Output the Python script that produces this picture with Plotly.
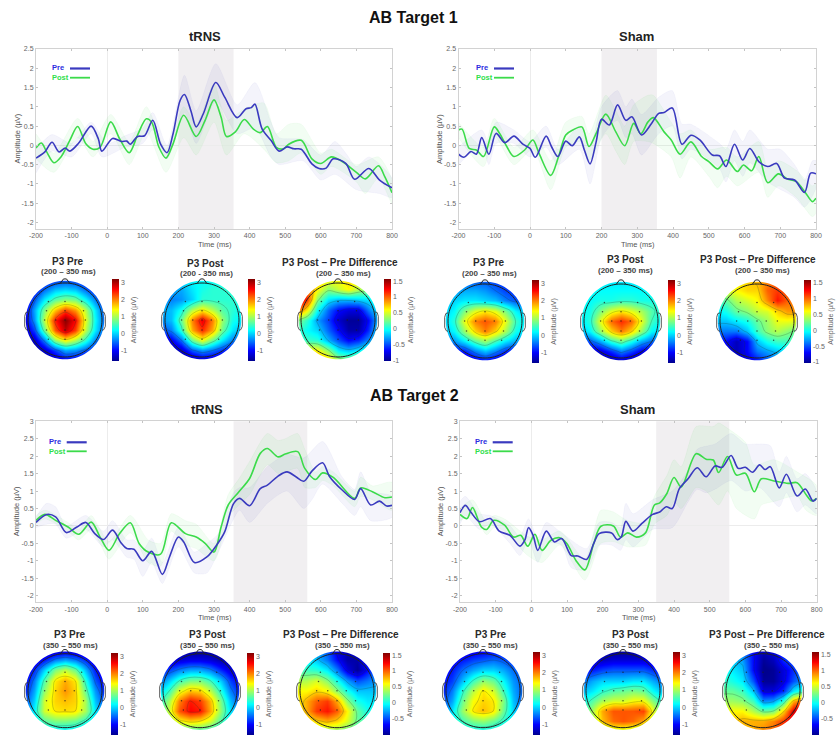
import math
import plotly.graph_objects as go

W, H = 836, 735
FONT = "Liberation Sans"
BLUE, GREEN = "#3A3ABF", "#3BDB4A"
BLUE_TXT, GREEN_TXT = "#2B2BE0", "#2FE04A"

X_TICKS = [-200, -100, 0, 100, 200, 300, 400, 500, 600, 700, 800]
Y_TICKS_T1 = [2.5, 2, 1.5, 1, 0.5, 0, -0.5, -1, -1.5, -2]
Y_LABELS_T1 = ["2.5", "2", "1.5", "1", "0.5", "0", "-0.5", "-1", "-1.5", "-2"]
Y_TICKS_T2 = [3, 2.5, 2, 1.5, 1, 0.5, 0, -0.5, -1, -1.5, -2]
Y_LABELS_T2 = ["3", "2.5", "2", "1.5", "1", "0.5", "0", "-0.5", "-1", "-1.5", "-2"]
CB_P3 = [3, 2, 1, 0, -1]
CB_DIFF = [1.5, 1, 0.5, 0, -0.5, -1]
CB_DIFF_LABELS = ["1.5", "1", "0.5", "0", "-0.5", "-1"]

# Panel A: AB Target 1, tRNS
A_PRE = [[-200,-.33],[-175,-.17],[-155,.08],[-135,-.17],[-118,-.07],[-105,-.15],[-80,.06],[-45,.5],[-25,.17],[-15,-.15],[15,.18],[40,.1],[55,.11],[65,.03],[85,.23],[105,.25],[128,.65],[150,.03],[168,-.19],[185,.3],[205,1.17],[217,1.32],[235,.9],[250,.48],[270,.82],[305,1.63],[330,1.25],[365,.72],[390,.95],[405,.98],[415,1.07],[435,.43],[460,.13],[483,-.15],[505,-.04],[525,-.09],[545,-.1],[575,-.48],[595,-.6],[615,-.59],[635,-.35],[670,-.47],[695,-.88],[735,-.6],[765,-.9],[800,-1.1]]
A_POST = [[-200,-.07],[-185,.06],[-170,-.17],[-150,-.45],[-130,-.3],[-105,.13],[-83,.49],[-60,.04],[-40,-.1],[-20,-.05],[10,.61],[35,.17],[62,-.19],[85,.26],[110,.69],[125,.6],[145,-.04],[165,-.33],[185,.04],[215,.78],[250,.23],[275,.65],[300,1.18],[320,.73],[335,.23],[360,.35],[385,.67],[410,.43],[430,.33],[450,.49],[475,-.05],[495,-.09],[510,.03],[545,.13],[575,-.35],[600,-.47],[630,-.3],[660,-.42],[700,-.7],[725,-.87],[762,-.53],[780,-.82],[800,-1.23]]
A_PRE_UP = [[-200,-.1],[-155,.28],[-100,.05],[-45,.6],[0,.05],[50,.25],[100,.45],[128,.85],[168,0],[217,1.82],[250,.9],[305,2.12],[365,1.05],[415,1.63],[460,.6],[483,.2],[550,.15],[600,-.25],[640,.1],[670,-.2],[700,-.55],[735,-.3],[800,-.85]]
A_PRE_LO = [[-200,-.72],[-155,-.15],[-100,-.3],[-45,.3],[-15,-.3],[50,-.05],[100,.05],[128,.4],[168,-.35],[217,.85],[250,.05],[305,1.15],[365,.3],[415,.45],[460,-.3],[483,-.5],[550,-.4],[600,-.9],[640,-.75],[700,-1.15],[765,-1.25],[800,-1.35]]
A_POST_UP = [[-200,.3],[-150,-.2],[-83,.7],[-40,.1],[10,.8],[62,.1],[110,1.0],[165,-.1],[215,1.0],[250,.55],[300,1.6],[335,.65],[385,.95],[440,1.1],[475,.3],[510,.55],[545,.55],[600,-.2],[630,-.1],[700,-.5],[762,-.3],[800,-.9]]
A_POST_LO = [[-200,-.35],[-150,-.7],[-83,.2],[-40,-.3],[10,.3],[62,-.5],[110,.35],[165,-.7],[215,.2],[250,-.25],[300,.6],[335,-.25],[385,.3],[440,-.1],[475,-.45],[510,-.4],[545,-.2],[600,-.75],[630,-.55],[700,-.95],[725,-1.25],[762,-.85],[800,-1.5]]

# Panel B: AB Target 1, Sham
B_PRE = [[-200,-.23],[-185,-.31],[-165,-.16],[-150,-.23],[-135,.2],[-115,-.23],[-95,.31],[-70,.07],[-45,.24],[-20,.03],[0,-.08],[15,-.31],[45,.24],[60,-.03],[78,-.29],[100,.11],[118,-.01],[138,.22],[152,-.12],[168,-.48],[185,.09],[200,.68],[222,.53],[245,1.05],[268,.65],[285,.74],[312,.27],[340,.57],[360,.83],[375,.85],[398,.97],[425,.03],[450,.26],[475,.14],[510,-.25],[530,-.27],[548,-.55],[572,.03],[595,-.38],[615,-.08],[640,-.42],[665,-.55],[690,-.47],[712,-.85],[740,-.9],[768,-1.22],[785,-.72],[800,-.74]]
B_POST = [[-200,.4],[-190,.42],[-170,-.08],[-150,-.12],[-130,-.29],[-100,.48],[-85,.31],[-65,-.03],[-45,-.29],[-15,-.12],[8,.14],[25,-.2],[58,-.78],[80,-.29],[100,.27],[120,.4],[145,.48],[165,-.03],[185,.31],[212,.81],[240,.35],[265,-.01],[290,.57],[310,.3],[330,.61],[345,.72],[375,.35],[395,.14],[420,-.23],[450,.09],[480,-.29],[500,-.42],[525,-.61],[550,-.38],[580,-.68],[597,-.51],[620,-.66],[640,-.29],[665,-.97],[695,-.74],[720,-.87],[745,-.94],[770,-1.22],[790,-1.46],[800,-1.37]]
B_PRE_UP = [[-200,-.05],[-135,.4],[-115,.05],[-95,.6],[-45,.4],[0,.1],[45,.5],[78,-.1],[138,.5],[168,-.05],[200,1.0],[245,1.42],[268,1.0],[285,1.2],[312,.8],[360,1.25],[398,1.42],[425,.55],[450,.55],[530,.05],[548,-.1],[572,.4],[595,.1],[615,.4],[665,-.1],[700,-.1],[740,-.5],[768,-.9],[790,-.4],[800,-.4]]
B_PRE_LO = [[-200,-.5],[-135,0],[-115,-.5],[-95,.05],[-45,.05],[0,-.3],[45,-.05],[78,-.5],[138,-.1],[168,-1.0],[200,.2],[245,.65],[268,.2],[285,.3],[312,-.25],[360,.3],[398,.5],[425,-.35],[450,-.1],[530,-.6],[548,-.95],[572,-.4],[595,-.8],[615,-.45],[665,-.95],[712,-1.2],[740,-1.35],[768,-1.6],[800,-1.1]]
B_POST_UP = [[-200,.6],[-130,-.05],[-100,.7],[-45,-.05],[8,.4],[58,-.4],[100,.6],[145,.75],[165,.3],[212,1.3],[240,.9],[265,.5],[290,1.05],[330,1.3],[345,1.3],[395,.6],[420,.3],[450,.4],[500,-.1],[550,-.05],[580,-.3],[640,.1],[665,-.6],[695,-.4],[745,-.65],[790,-1.05],[800,-1.0]]
B_POST_LO = [[-200,.2],[-130,-.55],[-100,.25],[-45,-.5],[8,-.1],[58,-1.15],[100,-.05],[145,.1],[165,-.4],[212,.3],[240,-.15],[265,-.5],[290,.1],[330,.1],[345,.05],[395,-.3],[420,-.85],[450,-.3],[500,-.8],[525,-1.1],[550,-.8],[580,-1.05],[640,-.7],[665,-1.35],[695,-1.05],[745,-1.35],[790,-1.85],[800,-1.75]]

# Panel C: AB Target 2, tRNS
C_PRE = [[-200,.1],[-170,.33],[-145,.26],[-115,-.19],[-85,-.03],[-60,.1],[-35,-.22],[-10,-.39],[15,-.12],[40,-.5],[55,-.65],[75,-.67],[100,-1],[125,-.73],[155,-1.39],[175,-.89],[200,-.32],[215,-.46],[245,-1.05],[280,-.89],[310,-.51],[330,-.17],[355,.64],[372,.79],[400,.58],[430,1.07],[450,1.17],[480,1.43],[505,1.55],[530,1.41],[552,1.28],[575,1.57],[605,1.81],[625,1.41],[660,1.03],[695,.76],[712,1.07],[740,.6],[765,.71],[785,.57],[800,.59]]
C_POST = [[-200,.16],[-175,.33],[-145,.16],[-110,-.03],[-80,-.24],[-45,.11],[-20,-.32],[5,-.7],[35,-.22],[65,.09],[90,-.51],[115,-.75],[150,-.81],[180,.09],[220,-.22],[250,-.32],[275,-.5],[300,-.75],[320,-.03],[340,.6],[370,.98],[400,1.36],[430,2.08],[450,2.22],[480,1.98],[500,2.06],[535,2.13],[555,1.65],[585,1.33],[605,1.52],[635,1.39],[695,.79],[712,1.09],[745,.98],[780,.81],[800,.83]]
C_PRE_UP = [[-200,.25],[-170,.65],[-145,.55],[-115,0],[-60,.3],[-10,-.15],[15,.15],[55,-.4],[75,-.4],[100,-.7],[125,-.35],[155,-1.05],[200,-.05],[245,-.75],[280,-.5],[310,-.25],[355,.95],[372,1.1],[400,1.1],[450,1.7],[505,2.05],[552,1.95],[605,2.42],[660,1.4],[695,1.05],[712,1.55],[740,1.0],[800,.85]]
C_PRE_LO = [[-200,-.05],[-170,.05],[-145,.05],[-115,-.35],[-60,-.1],[-10,-.6],[15,-.4],[55,-.9],[75,-.95],[100,-1.45],[125,-1.05],[155,-1.65],[200,-.6],[245,-1.35],[280,-1.35],[310,-.8],[355,.2],[372,.45],[400,.1],[450,.65],[505,1.0],[552,.5],[575,.75],[605,1.2],[660,.65],[695,.3],[712,.55],[740,.15],[800,.25]]
C_POST_UP = [[-200,.3],[-175,.45],[-110,.1],[-80,-.1],[-45,.3],[-20,-.1],[5,-.45],[65,.3],[115,-.4],[150,-.5],[180,.35],[220,.15],[250,.05],[300,-.5],[340,.9],[370,1.35],[400,1.85],[450,2.65],[480,2.45],[500,2.5],[535,2.65],[555,2.2],[585,1.55],[605,1.7],[635,1.55],[695,1.0],[712,1.4],[745,1.15],[800,1.25]]
C_POST_LO = [[-200,.05],[-175,.2],[-110,-.15],[-80,-.4],[-45,-.1],[-20,-.5],[5,-.95],[65,-.2],[115,-1.05],[150,-1.15],[180,-.15],[220,-.55],[250,-.65],[300,-1.0],[340,.25],[370,.6],[400,.9],[450,1.75],[480,1.5],[500,1.55],[535,1.65],[555,1.1],[585,1.1],[605,1.3],[635,1.15],[695,.55],[712,.85],[745,.75],[800,.45]]

# Panel D: AB Target 2, Sham
D_PRE = [[-200,.38],[-185,.59],[-170,.4],[-145,.12],[-115,.21],[-90,-.15],[-60,-.27],[-32,-.58],[-18,-.4],[-8,-.05],[5,-.27],[18,-.7],[42,-.15],[65,-.46],[85,-.36],[112,-.85],[130,-.86],[155,-.96],[175,-.5],[190,-.22],[225,-.2],[240,-.39],[252,-.32],[265,.13],[285,-.15],[310,.07],[340,.33],[360,.4],[378,.55],[395,.5],[415,1.07],[440,1.36],[465,1.67],[490,1.41],[515,1.72],[535,1.68],[560,2.02],[580,1.65],[600,1.68],[620,1.54],[640,1.75],[655,1.62],[670,1.7],[695,1.09],[715,1.48],[745,.86],[768,1.06],[790,.71],[800,.79]]
D_POST = [[-200,.33],[-180,.21],[-165,.53],[-140,-.03],[-125,-.1],[-105,.16],[-75,.02],[-50,-.32],[-30,-.27],[-10,-.58],[10,-.24],[30,-.7],[55,-.41],[80,-.34],[100,-.51],[125,-.99],[150,-1.26],[175,-.5],[195,-.01],[230,0],[250,-.32],[270,-.2],[295,-.32],[320,-.2],[345,.6],[360,.66],[380,.93],[400,1.39],[420,1.12],[462,2.07],[490,1.91],[510,1.89],[525,1.53],[550,1.99],[575,1.46],[600,1.51],[625,.98],[645,1.35],[680,1.29],[720,1.22],[745,1.24],[770,.9],[785,.72],[800,.79]]
D_PRE_UP = [[-200,.7],[-185,.85],[-145,.35],[-115,.3],[-60,0],[-32,-.3],[-8,.2],[18,-.35],[42,.1],[85,-.2],[155,-.65],[190,.1],[225,.1],[250,-.05],[265,.65],[285,.35],[340,.75],[395,1.0],[440,1.6],[465,2.2],[515,2.35],[560,2.65],[600,2.35],[640,2.35],[670,2.3],[695,1.55],[715,2.0],[745,1.35],[768,1.5],[800,1.0]]
D_PRE_LO = [[-200,.05],[-185,.3],[-145,-.1],[-115,.05],[-60,-.5],[-32,-.85],[-8,-.4],[18,-1.05],[42,-.5],[85,-.55],[112,-1.2],[155,-1.25],[190,-.55],[225,-.55],[250,-.7],[265,-.4],[285,-.6],[340,-.1],[395,-.05],[440,.7],[465,1.05],[490,.95],[515,1.05],[560,1.3],[600,1.0],[640,1.1],[695,.55],[715,.95],[745,.4],[768,.6],[800,.35]]
D_POST_UP = [[-200,.5],[-165,.75],[-125,.1],[-105,.3],[-75,.2],[-10,-.3],[30,-.4],[80,-.15],[150,-.95],[195,.45],[230,.4],[270,.15],[320,.1],[345,.85],[380,1.45],[400,1.9],[420,1.7],[462,2.85],[510,2.85],[525,2.95],[550,2.8],[600,2.4],[625,1.75],[680,1.9],[745,1.55],[800,1.15]]
D_POST_LO = [[-200,.15],[-165,.3],[-125,-.25],[-105,-.05],[-75,-.15],[-10,-.85],[30,-1.05],[80,-.55],[150,-1.55],[195,-.5],[230,-.45],[270,-.6],[320,-.55],[345,.05],[380,.3],[400,.7],[420,.5],[462,1.1],[490,1.0],[525,.6],[550,1.0],[575,.5],[625,.2],[645,.6],[680,.7],[745,.85],[770,.45],[800,.3]]

# Scalp maps: values read on a 9 x 9 grid, rows top to bottom
GRID = [-1.1, -.825, -.55, -.275, 0, .275, .55, .825, 1.1]
M1 = [[-1.2,-1.2,-1,-.8,-.7,-.8,-1,-1.2,-1.2],[-1.2,-1,-.5,-.1,0,-.1,-.5,-.9,-1.2],[-1.2,-.6,.1,.6,.8,.7,.2,-.4,-1],[-1.2,-.2,.8,1.7,2.3,1.9,1.1,.1,-.7],[-1.2,-.3,1.1,2.5,3.15,2.6,1.3,.2,-.6],[-1.4,-.7,.7,2.2,2.9,2.3,1.1,.1,-.6],[-1.5,-1.3,-.4,.9,1.4,1.0,.4,-.4,-.9],[-1.6,-1.6,-1.3,-.7,-.2,-.3,-.6,-.9,-1.1],[-1.6,-1.6,-1.6,-1.4,-1.1,-1.1,-1.2,-1.2,-1.2]]
M2 = [[0,0,.1,.2,.2,.2,.2,.3,.3],[-.1,-.2,-.2,.1,.3,.4,.4,.4,.3],[-.2,-.4,-.3,0,.4,.4,.4,.4,.3],[-.2,-.1,.3,1.1,1.5,1.1,.6,.4,.2],[-.3,-.1,.7,2.0,2.7,2.0,.9,.3,.1],[-.7,-.4,.4,1.8,2.4,1.8,.7,.1,-.2],[-1.2,-1.1,-.5,.7,1.3,.7,.1,-.4,-.6],[-1.5,-1.5,-1.3,-.6,-.3,-.5,-.8,-1,-1.1],[-1.6,-1.6,-1.6,-1.5,-1.3,-1.3,-1.3,-1.3,-1.3]]
M3 = [[1,1,.8,.6,.6,.7,.6,.5,.4],[1.2,1,.6,.3,.45,.6,.4,.3,.2],[1.5,1.1,.3,-.1,-.2,-.2,-.15,-.1,.1],[1.0,.6,-.05,-.45,-.7,-.8,-.8,-.4,-.1],[.3,.05,-.3,-.55,-.85,-1,-1,-.7,-.2],[.1,-.05,-.15,-.45,-.7,-.95,-.95,-.6,-.1],[.1,.1,.05,-.25,-.5,-.7,-.6,-.35,0],[.6,.6,.6,.3,-.1,-.2,-.1,.1,.2],[.9,.9,.9,.7,.4,.3,.4,.5,.5]]
M4 = [[-.6,-.6,-.6,-.6,-.6,-.7,-.8,-.9,-.9],[-.4,-.3,-.2,-.2,-.3,-.5,-.7,-.8,-.8],[-.2,0,.1,.1,0,-.1,-.4,-.6,-.6],[0,.2,.8,1.3,1.5,1.3,.8,.2,-.1],[0,.4,1.3,2,2.2,2,1.3,.5,.1],[-.1,.2,.9,1.6,2,1.6,1,.3,0],[-.5,-.3,.1,.6,.9,.5,.1,-.2,-.4],[-1,-1,-.9,-.4,-.1,-.4,-.8,-1,-1],[-1.3,-1.3,-1.4,-1.2,-1,-1.2,-1.3,-1.3,-1.3]]
M5 = [[.1,.1,.1,.1,.1,.1,.1,.1,.1],[.2,.2,.2,.2,.2,.2,.2,.2,.2],[.2,.2,.3,.3,.4,.4,.3,.3,.3],[.2,.3,.8,1.3,1.5,1.3,1,.6,.3],[.1,.4,1.3,2.1,2.4,2.1,1.3,.5,.2],[-.1,.2,.9,1.6,2,1.6,.9,.2,0],[-.8,-.6,-.2,.4,.7,.3,-.2,-.5,-.6],[-1.3,-1.3,-1.2,-.8,-.4,-.7,-1.1,-1.2,-1.2],[-1.5,-1.5,-1.5,-1.5,-1.3,-1.5,-1.5,-1.5,-1.5]]
M6 = [[.5,.5,.6,.7,.8,.9,1,.9,.8],[.4,.5,.6,.7,.7,1,1.1,1,.9],[.1,.2,.4,.5,.6,.9,1.2,1,.9],[-.1,0,.2,.3,.45,.5,.7,.85,.85],[-.2,-.2,-.1,0,.2,.35,.55,.55,.5],[-.4,-.4,-.4,-.2,.1,.3,.4,.3,.2],[-.7,-.7,-.9,-.7,-.2,0,.1,.1,.1],[-.8,-.8,-.9,-.7,-.4,-.3,-.2,-.1,0],[-.8,-.9,-.9,-.8,-.7,-.5,-.4,-.3,-.2]]
M7 = [[-1.5,-1.5,-1.5,-1.4,-1.3,-1.4,-1.5,-1.5,-1.5],[-1.5,-1.3,-.9,-.4,-.2,-.4,-.8,-1.3,-1.5],[-1.3,-.8,0,.8,1.1,.7,-.1,-.9,-1.3],[-1.1,-.4,.6,1.5,1.8,1.5,.4,-.6,-1.1],[-.9,-.2,.9,1.6,1.9,1.6,.7,-.3,-.9],[-.7,0,1.2,1.6,1.7,1.6,1.0,-.1,-.7],[-.4,.2,1.2,1.5,1.55,1.5,1,.1,-.4],[-.3,.1,.6,.8,.8,.7,.4,0,-.3],[-.1,0,.1,.1,.1,.1,0,0,-.1]]
M8 = [[-1.6,-1.6,-1.6,-1.6,-1.6,-1.6,-1.6,-1.6,-1.6],[-1.5,-1.3,-1.2,-1.1,-1.1,-1.2,-1.4,-1.5,-1.6],[-1,-.7,-.4,-.2,-.2,-.4,-.8,-1.2,-1.4],[-.5,0,.5,.8,.8,.5,0,-.7,-1.1],[0,.5,1.3,1.7,1.6,1.1,.4,-.4,-.9],[.3,1,2,2.5,2.3,1.7,.8,-.1,-.7],[.5,1.2,2.2,2.6,2.5,1.8,.9,.1,-.4],[.5,.9,1.4,1.6,1.5,1.2,.6,.1,-.2],[.3,.4,.5,.5,.5,.4,.2,0,-.1]]
M9 = [[-.2,-.2,-.3,-.5,-.8,-.9,-.8,-.6,-.4],[-.1,-.1,-.2,-.4,-.7,-.95,-.95,-.6,-.4],[.1,.1,.05,-.1,-.4,-.8,-1,-.7,-.4],[.4,.4,.5,.3,0,-.3,-.5,-.4,-.3],[.6,.6,.7,.6,.3,0,-.2,-.2,-.2],[.6,.8,1,1.1,.8,.3,0,-.1,-.1],[.6,.8,1.1,1.2,1,.6,.2,0,0],[.5,.6,.7,.8,.7,.5,.2,.1,.1],[.3,.3,.4,.3,.3,.2,.1,.1,.1]]
M10 = [[-1.3,-1.3,-1.3,-1.2,-1.1,-1,-1,-1,-1],[-1.2,-1.1,-.9,-.7,-.6,-.5,-.6,-.8,-.9],[-1.1,-.9,-.5,-.2,0,0,-.2,-.5,-.7],[-1,-.7,-.1,.5,.9,.7,.2,-.3,-.6],[-.9,-.4,.4,1.1,1.5,1.2,.5,-.2,-.6],[-.7,-.2,.7,1.4,1.6,1.5,.8,-.1,-.6],[-.5,.1,.9,1.5,1.7,1.5,.7,0,-.4],[-.2,.2,.5,.8,.9,.7,.4,.1,-.2],[0,.1,.2,.2,.2,.2,.1,0,0]]
M11 = [[-1.6,-1.6,-1.6,-1.6,-1.6,-1.6,-1.6,-1.6,-1.6],[-1.4,-1.3,-1.3,-1.2,-1.2,-1.2,-1.2,-1.3,-1.4],[-1,-.9,-.7,-.6,-.6,-.6,-.6,-.8,-1],[-.5,-.2,0,0,0,.1,.1,-.2,-.5],[-.1,.1,.4,.6,.7,.8,.7,.2,-.1],[.2,.6,1,1.2,1.2,1.4,1.4,.8,.3],[.5,1,1.8,2.2,2.2,2.2,2.3,1.3,.6],[.6,.9,1.7,2.1,2.2,2.1,1.8,1,.5],[.4,.6,.9,1.1,1.1,1,.8,.5,.3]]
M12 = [[-.1,-.2,-.4,-.7,-.9,-.8,-.6,-.5,-.4],[-.1,-.2,-.3,-.7,-1,-.9,-.6,-.5,-.4],[0,-.1,-.2,-.7,-1.05,-1,-.8,-.6,-.4],[.1,0,-.1,-.5,-1,-1,-.8,-.5,-.3],[.2,.2,.1,-.2,-.8,-.8,-.6,-.1,.1],[.35,.35,.3,.1,-.35,-.3,.05,.8,1],[.5,.6,.6,.4,.2,.25,.7,1.3,1.5],[.6,.7,.8,.8,.8,.9,1.1,1.4,1.5],[.5,.6,.7,.8,.9,1,1.2,1.4,1.4]]

ELEC_X = [-.45,0,.45,-.5,0,.5,-.55,-.25,0,.25,.55,-.5,0,.5,-.45,0,.45]
ELEC_Y = [.5,.5,.5,.25,.25,.25,0,0,0,0,0,-.27,-.27,-.27,-.52,-.52,-.52]

JET = [[0,"#00008F"],[.125,"#0000FF"],[.375,"#00FFFF"],[.625,"#FFFF00"],[.875,"#FF0000"],[1,"#800000"]]


def px(x):
    return x / W


def py(y):
    return 1 - y / H


def unzip(pairs):
    return [p[0] for p in pairs], [p[1] for p in pairs]


fig = go.Figure()
layout = {}
shapes = []
notes = []
axis_no = [0]


def note(text, x, y, size, bold=False, color="#222", anchor="center", angle=0):
    label = f"<b>{text}</b>" if bold else text
    notes.append(dict(text=label, x=px(x), y=py(y), xref="paper", yref="paper", showarrow=False,
                      xanchor=anchor, yanchor="middle", textangle=angle,
                      font=dict(family=FONT, size=size, color=color)))


def new_axes(x0, x1, y0, y1):
    axis_no[0] += 1
    n = axis_no[0]
    s = "" if n == 1 else str(n)
    return n, s, [px(x0), px(x1)], [py(y1), py(y0)]


def band(xa, ya, up, lo, rgb, alpha):
    ux, uy = unzip(up)
    lx, ly = unzip(lo)
    fig.add_trace(go.Scatter(x=ux + lx[::-1], y=uy + ly[::-1], xaxis=xa, yaxis=ya, mode="lines",
                             fill="toself", fillcolor=f"rgba({rgb},{alpha})",
                             line=dict(color=f"rgba({rgb},{alpha + 0.02})", width=0.5, shape="spline", smoothing=0.7),
                             hoverinfo="skip", showlegend=False))


def line_panel(box, yr, yt, yl, shade, pre, post, bands, title, title_xy, leg):
    x0, x1, y0, y1 = box
    n, s, dx, dy = new_axes(x0, x1, y0, y1)
    xa, ya = "x" + s, "y" + s
    layout["xaxis" + s] = dict(domain=dx, range=[-200, 800], anchor=ya, tickvals=X_TICKS,
                               ticktext=[str(v) for v in X_TICKS], ticks="inside", ticklen=2, tickwidth=0.7,
                               tickcolor="#c4c4c4", showline=True, linecolor="#d2d2d2", linewidth=1, mirror="ticks",
                               showgrid=False, zeroline=True, zerolinecolor="#ececec", zerolinewidth=1,
                               tickfont=dict(family=FONT, size=7, color="#666"))
    layout["yaxis" + s] = dict(domain=dy, range=yr, anchor=xa, tickvals=yt, ticktext=yl, ticks="inside", ticklen=2,
                               tickwidth=0.7, tickcolor="#c4c4c4", showline=True, linecolor="#d2d2d2", linewidth=1,
                               mirror="ticks", showgrid=False, zeroline=True, zerolinecolor="#ececec",
                               zerolinewidth=1, tickfont=dict(family=FONT, size=7, color="#666"))
    shapes.append(dict(type="rect", xref=xa, yref=ya + " domain", x0=shade[0], x1=shade[1], y0=0, y1=1,
                       fillcolor="#F1EFF1", line_width=0, layer="below"))
    band(xa, ya, bands[0], bands[1], "58,58,191", 0.055)
    band(xa, ya, bands[2], bands[3], "59,219,74", 0.065)
    for series, col in ((post, GREEN), (pre, BLUE)):
        tx, vy = unzip(series)
        fig.add_trace(go.Scatter(x=tx, y=vy, xaxis=xa, yaxis=ya, mode="lines", hoverinfo="skip", showlegend=False,
                                 line=dict(color=col, width=1.6, shape="spline", smoothing=0.9)))
    note(title, title_xy[0], title_xy[1], 13, True, "#222")
    note("Time (ms)", (x0 + x1) / 2 + 0.5, y1 + 15, 7.5, False, "#555")
    note("Amplitude (µV)", x0 - 19.5, (y0 + y1) / 2 + 0, 7.5, False, "#555", angle=-90)
    lx, tx1, ty1, ty2, ly1, ly2 = leg
    note("Pre", lx, ty1, 7.5, True, BLUE_TXT, "left")
    note("Post", lx, ty2, 7.5, True, GREEN_TXT, "left")
    shapes.append(dict(type="line", xref="paper", yref="paper", x0=px(tx1), x1=px(tx1 + 20), y0=py(ly1), y1=py(ly1),
                       line=dict(color=BLUE, width=2.2)))
    shapes.append(dict(type="line", xref="paper", yref="paper", x0=px(tx1), x1=px(tx1 + 20), y0=py(ly2), y1=py(ly2),
                       line=dict(color=GREEN, width=1.8)))


def circle_path(r, cx=0.0, cy=0.0, rx=None):
    rx = r if rx is None else rx
    pts = [(cx + rx * math.cos(2 * math.pi * i / 96), cy + r * math.sin(2 * math.pi * i / 96)) for i in range(96)]
    return "M" + " L".join(f"{a:.4f},{b:.4f}" for a, b in pts) + " Z"


def scalp(z, cx, cy, diff, bar, title, sub, bar_title=True):
    R = 37.0
    top = cy - 48
    bot = min(cy + 48, H)
    n, s, dx, dy = new_axes(cx - 48, cx + 48, top, bot)
    xa, ya = "x" + s, "y" + s
    layout["xaxis" + s] = dict(domain=dx, range=[-48 / R, 48 / R], visible=False, anchor=ya)
    layout["yaxis" + s] = dict(domain=dy, range=[(cy - bot) / R, 48 / R], visible=False, anchor=xa)
    zmin, zmax = (-1.03, 1.57) if diff else (-1.6, 3.2)
    bx0, by0, by1 = bar
    cb = dict(x=px(bx0), xanchor="left", y=py(by1), yanchor="bottom", len=(by1 - by0) / H, lenmode="fraction",
              thickness=7, thicknessmode="pixels", xpad=0, ypad=0, outlinewidth=0, ticks="", ticklabelposition="outside",
              tickvals=CB_DIFF if diff else CB_P3, ticktext=CB_DIFF_LABELS if diff else [str(v) for v in CB_P3],
              tickfont=dict(family=FONT, size=7, color="#666"))
    if bar_title:
        cb["title"] = dict(text="Amplitude (µV)", side="right", font=dict(family=FONT, size=7, color="#666"))
    fig.add_trace(go.Heatmap(z=z, x=GRID, y=GRID[::-1], xaxis=xa, yaxis=ya, zmin=zmin, zmax=zmax, colorscale=JET,
                             zsmooth="best", colorbar=cb, hoverinfo="skip"))
    lev = dict(start=-.75, end=1.25, size=.5) if diff else dict(start=-.5, end=2.5, size=1)
    fig.add_trace(go.Contour(z=z, x=GRID, y=GRID[::-1], xaxis=xa, yaxis=ya, showscale=False, autocontour=False,
                             contours=dict(coloring="none", **lev), hoverinfo="skip",
                             line=dict(color="rgba(30,60,40,0.4)", width=0.6, smoothing=1.0)))
    fig.add_trace(go.Scatter(x=ELEC_X, y=ELEC_Y, xaxis=xa, yaxis=ya, mode="markers", hoverinfo="skip", showlegend=False,
                             marker=dict(size=1.5, color="rgba(30,30,30,0.75)")))
    L = 1.28
    mask = f"M{-L},{-L} L{L},{-L} L{L},{L} L{-L},{L} Z " + circle_path(1.06)
    shapes.append(dict(type="path", xref=xa, yref=ya, path=mask, fillcolor="#FFFFFF", line_width=0, layer="above"))
    stroke = dict(color="#222", width=1)
    shapes.append(dict(type="path", xref=xa, yref=ya, path=circle_path(1.0), line=stroke, layer="above"))
    shapes.append(dict(type="path", xref=xa, yref=ya, path="M-.13,.99 L-.04,1.11 L.04,1.11 L.13,.99",
                       line=stroke, layer="above"))
    for side in (-1, 1):
        ear = f"M{side},.22 L{side * 1.06},.2 L{side * 1.09},.1 L{side * 1.09},-.17 L{side * 1.05},-.26 L{side},-.28"
        shapes.append(dict(type="path", xref=xa, yref=ya, path=ear, line=dict(color="#333", width=0.8), layer="above"))
    note(title[0], title[1], title[2], 10, True, "#2a2a2a")
    note(sub[0], sub[1], sub[2], 8, True, "#444")


note("AB Target 1", 413, 17.5, 16, True, "#111")
note("AB Target 2", 414, 395.7, 16, True, "#111")

Y1 = [-2.17, 2.5]
Y2 = [-2.19, 3]
line_panel((36, 392, 49, 229), Y1, Y_TICKS_T1, Y_LABELS_T1, (200, 355), A_PRE, A_POST,
           (A_PRE_UP, A_PRE_LO, A_POST_UP, A_POST_LO), "tRNS", (205, 36.7), (50, 70, 67, 78, 68.5, 77.7))
line_panel((458.5, 816, 49, 229), Y1, Y_TICKS_T1, Y_LABELS_T1, (200, 355), B_PRE, B_POST,
           (B_PRE_UP, B_PRE_LO, B_POST_UP, B_POST_LO), "Sham", (636, 36.7), (473.7, 494, 67, 78, 68.5, 77.7))
line_panel((36, 392, 421.3, 602.3), Y2, Y_TICKS_T2, Y_LABELS_T2, (355, 562), C_PRE, C_POST,
           (C_PRE_UP, C_PRE_LO, C_POST_UP, C_POST_LO), "tRNS", (206.7, 409), (46.7, 66.7, 441.3, 451.7, 442.3, 451.3))
line_panel((460, 816.7, 421.3, 602.3), Y2, Y_TICKS_T2, Y_LABELS_T2, (350, 555), D_PRE, D_POST,
           (D_PRE_UP, D_PRE_LO, D_POST_UP, D_POST_LO), "Sham", (637, 409), (472.7, 492.7, 441.3, 451.7, 442.3, 451.3))

T_PRE, T_POST, T_DIFF = "P3 Pre", "P3 Post", "P3 Post – Pre Difference"
S1, S1H, S2 = "(200 – 350 ms)", "(200 - 350 ms)", "(350 – 550 ms)"
scalp(M1, 65, 320, False, (112, 279, 361), (T_PRE, 68, 261), (S1, 68, 271))
scalp(M2, 202, 320, False, (248, 279, 361), (T_POST, 205.7, 263), (S1H, 206, 273.7))
scalp(M3, 338, 320, True, (384, 279, 361), (T_DIFF, 339.7, 262.5), (S1, 343, 273))
scalp(M4, 485, 321, False, (532, 280, 363), (T_PRE, 489, 262.7), (S1, 489, 273.3))
scalp(M5, 621, 321, False, (668, 280, 363), (T_POST, 625.7, 260), (S1, 625.7, 270.7))
scalp(M6, 757, 321, True, (804, 280, 363), (T_DIFF, 758, 260), (S1, 762, 270.7))
scalp(M7, 65, 690.7, False, (111, 653, 735), (T_PRE, 70, 634), (S2, 70, 645))
scalp(M8, 200, 690.7, False, (247, 653, 735), (T_POST, 207, 634.7), (S2, 207, 645))
scalp(M9, 337, 690.7, True, (383, 653, 735), (T_DIFF, 341, 634.3), (S2, 342.7, 645))
scalp(M10, 483, 690.7, False, (533, 652, 735), (T_PRE, 490.7, 634), (S2, 490.7, 645))
scalp(M11, 623, 690.7, False, (673, 652, 735), (T_POST, 630, 634.7), (S2, 630, 645))
scalp(M12, 763, 690.7, True, (812, 652, 735), (T_DIFF, 767, 634.3), (S2, 771, 645), bar_title=False)

fig.update_layout(width=W, height=H, margin=dict(l=0, r=0, t=0, b=0, autoexpand=False), paper_bgcolor="white",
                  plot_bgcolor="white", showlegend=False, shapes=shapes, annotations=notes,
                  font=dict(family=FONT), **layout)
fig.write_html("out.html", config={"displayModeBar": False},
               post_script="document.body.style.margin='0';document.body.style.overflow='hidden';")
